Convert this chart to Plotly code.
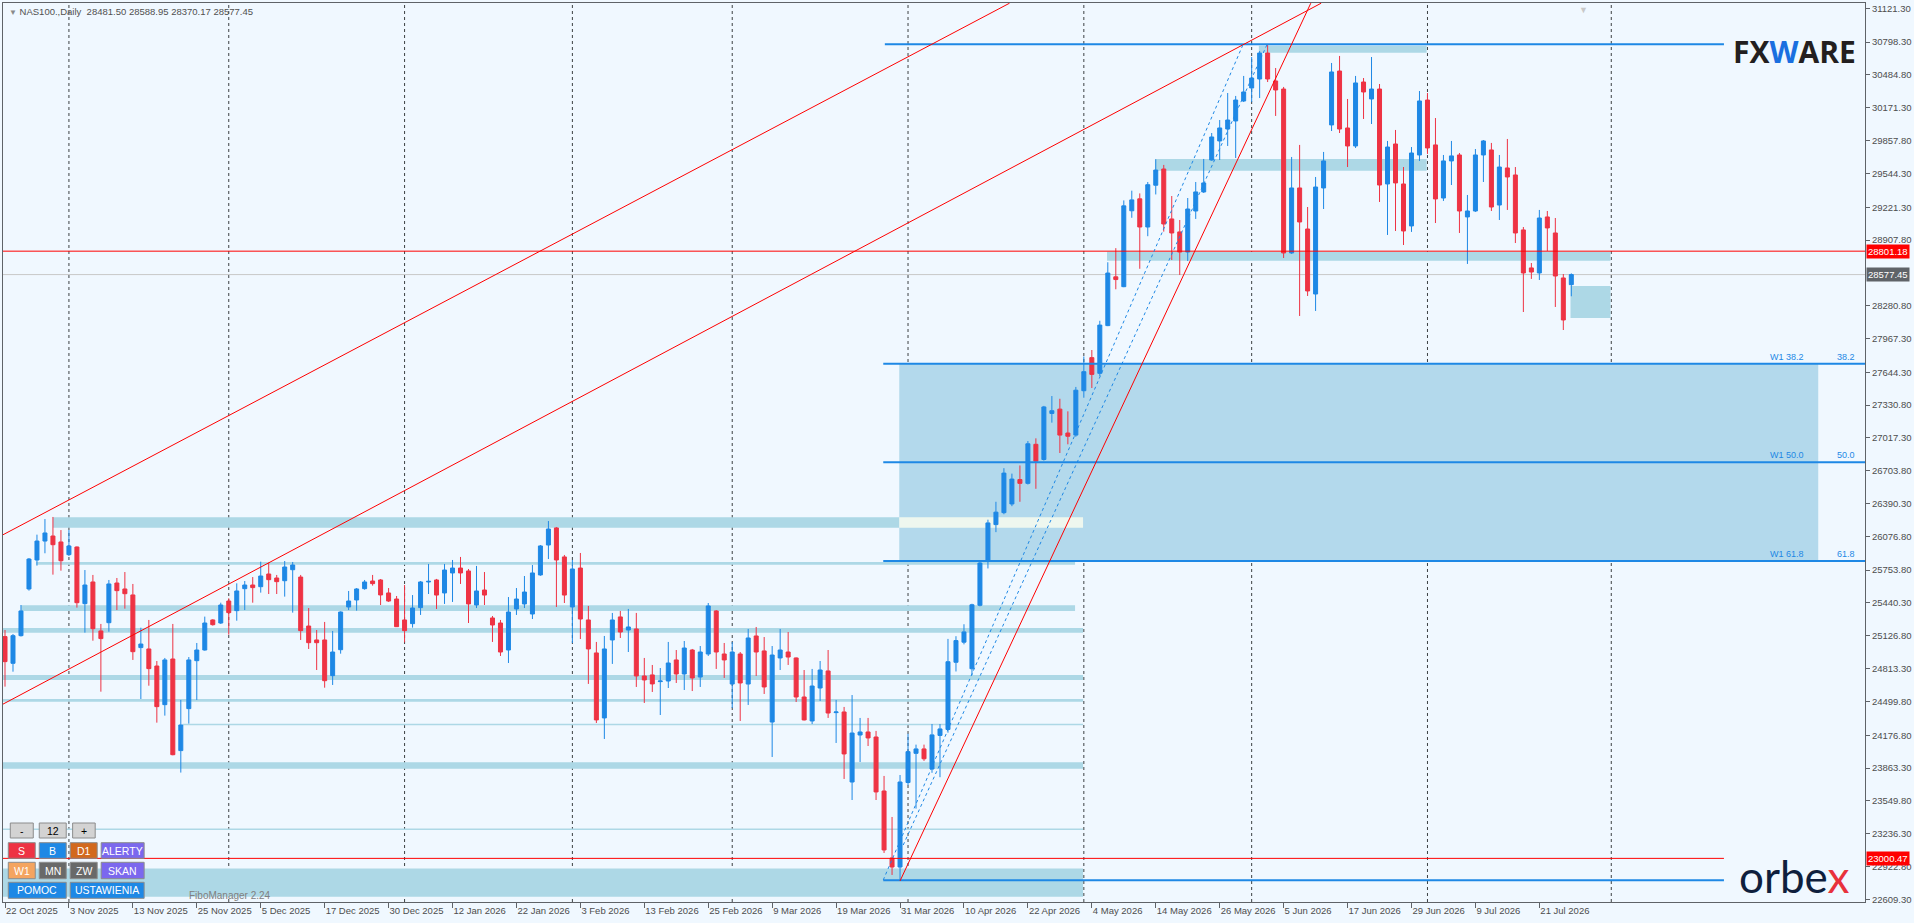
import plotly.graph_objects as go

# ---- data --------------------------------------------------------------
date_labels = ["22 Oct 2025", "3 Nov 2025", "13 Nov 2025", "25 Nov 2025", "5 Dec 2025",
               "17 Dec 2025", "30 Dec 2025", "12 Jan 2026", "22 Jan 2026", "3 Feb 2026",
               "13 Feb 2026", "25 Feb 2026", "9 Mar 2026", "19 Mar 2026", "31 Mar 2026",
               "10 Apr 2026", "22 Apr 2026", "4 May 2026", "14 May 2026", "26 May 2026",
               "5 Jun 2026", "17 Jun 2026", "29 Jun 2026", "9 Jul 2026", "21 Jul 2026"]

opens = [25119, 24864, 25128, 25574, 25851, 26032, 26080, 26023, 25902, 25975,
         25434, 25641, 25173, 25252, 25631, 25574, 25517, 25014, 25001, 24838,
         24469, 24905, 24030, 24431, 24889, 24991, 25278, 25249, 25459, 25367,
         25577, 25612, 25596, 25717, 25679, 25653, 25758, 25688, 25220, 25087,
         25087, 24746, 24994, 25402, 25469, 25577, 25650, 25660, 25536, 25478,
         25278, 25243, 25396, 25641, 25660, 25536, 25727, 25774, 25746, 25421,
         25564, 25297, 25249, 24991, 25383, 25431, 25335, 25708, 25994, 26157,
         25880, 25402, 25774, 25278, 24963, 24342, 25087, 25307, 25182, 25192,
         24743, 24753, 24689, 24695, 24896, 24762, 24991, 24733, 24953, 25364,
         24953, 24666, 24953, 24666, 25125, 24982, 24303, 24915, 24972, 24915,
         24542, 24313, 24628, 24791, 24393, 24399, 23730, 24179, 24208, 24160,
         23644, 23004, 22918, 23725, 24004, 24046, 23854, 24175, 24232, 24874,
         25066, 24812, 25418, 25837, 26189, 26303, 26386, 26619, 26583, 26956,
         26811, 27251, 27292, 27064, 27044, 27468, 27784, 27634, 28090, 28556,
         28462, 29187, 29301, 29032, 29431, 29586, 29109, 28985, 28793, 29185,
         29367, 29672, 29854, 29968, 30045, 30236, 30360, 30446, 30694, 30427,
         30350, 28784, 29405, 29013, 28392, 29405, 30007, 30522, 29978, 29806,
         30417, 30255, 30350, 29443, 29825, 29443, 29042, 29720, 30245, 29816,
         29309, 29663, 29720, 29128, 29185, 29720, 29768, 29242, 29596, 29529,
         29004, 28641, 28593, 29128, 28975, 28545, 28481.50]
highs = [25182, 25144, 25421, 25870, 26093, 26242, 26262, 26137, 26137, 25980,
         25755, 25708, 25240, 25660, 25679, 25736, 25622, 25204, 25278, 24886,
         24915, 25240, 24514, 24924, 25058, 25310, 25285, 25443, 25485, 25628,
         25650, 25688, 25835, 25825, 25708, 25841, 25832, 25708, 25392, 25182,
         25259, 25173, 25360, 25555, 25583, 25660, 25708, 25669, 25583, 25507,
         25612, 25516, 25650, 25813, 25670, 25813, 25851, 25880, 25765, 25794,
         25736, 25316, 25278, 25497, 25583, 25698, 25803, 25994, 26223, 26166,
         25899, 25851, 25918, 25412, 25068, 25125, 25345, 25364, 25383, 25345,
         24915, 24848, 24819, 25068, 24991, 25077, 25001, 25029, 25440, 25373,
         25058, 25067, 24972, 25192, 25211, 25115, 25029, 25192, 25163, 24920,
         24800, 24810, 24886, 24991, 24514, 24447, 24561, 24342, 24342, 24218,
         23788, 23396, 23797, 24191, 24087, 24087, 24284, 24284, 25097, 25123,
         25237, 25433, 25832, 26236, 26407, 26728, 26676, 26754, 26987, 27013,
         27323, 27417, 27391, 27271, 27504, 27795, 27857, 28136, 28695, 28830,
         29286, 29379, 29353, 29462, 29679, 29625, 29328, 29099, 29309, 29462,
         29682, 29930, 30054, 30312, 30284, 30475, 30656, 30713, 30771, 30551,
         30370, 29701, 29816, 29223, 29510, 29749, 30599, 30666, 30255, 30475,
         30455, 30656, 30398, 29854, 29959, 29605, 29796, 30331, 30312, 30073,
         29720, 29854, 29739, 29338, 29777, 29863, 29835, 29720, 29873, 29605,
         29032, 28688, 29195, 29185, 29118, 28583, 28588.95]
lows = [24641, 24784, 25120, 25558, 25797, 25915, 25711, 25749, 25889, 25396,
        25157, 25080, 24593, 25166, 25373, 25386, 24896, 24523, 24650, 24297,
        24364, 23985, 23820, 24288, 24514, 24985, 25224, 25240, 25138, 25271,
        25373, 25443, 25539, 25526, 25526, 25501, 25348, 25087, 25001, 24800,
        24631, 24657, 24956, 25373, 25367, 25567, 25606, 25421, 25450, 25211,
        25064, 25205, 25326, 25526, 25383, 25431, 25450, 25622, 25249, 25392,
        25421, 25068, 24934, 24867, 25326, 25392, 25287, 25700, 25860, 25402,
        25440, 25058, 25096, 24667, 24294, 24141, 24858, 25106, 24972, 24638,
        24485, 24590, 24370, 24628, 24676, 24609, 24599, 24638, 24934, 24810,
        24724, 24437, 24313, 24466, 24743, 24571, 23969, 24800, 24848, 24494,
        24318, 24284, 24504, 24342, 24103, 23759, 23558, 23921, 24074, 23558,
        23052, 22842, 22785, 23699, 23476, 23932, 23818, 23776, 24201, 24786,
        25045, 24750, 25408, 25770, 26117, 26288, 26365, 26407, 26572, 26531,
        26800, 27163, 26873, 26956, 27028, 27401, 27494, 27608, 28085, 28437,
        28457, 29120, 28633, 28944, 29343, 28988, 28717, 28574, 28707, 29109,
        29357, 29665, 29672, 29806, 29691, 30226, 30226, 30264, 30417, 30093,
        28736, 28775, 28182, 28373, 28230, 29204, 29949, 29930, 29605, 29787,
        30064, 30016, 29271, 28956, 28994, 28860, 28985, 29663, 29730, 29070,
        29281, 29433, 28975, 28679, 29176, 29462, 29185, 29099, 29195, 28879,
        28220, 28536, 28526, 28803, 28268, 28048, 28370.17]
closes = [24880, 25128, 25364, 25860, 26032, 26109, 25997, 25844, 25985, 25443,
          25612, 25195, 25100, 25622, 25558, 25529, 24975, 25048, 24813, 24450,
          24896, 23991, 24275, 24896, 24991, 25249, 25233, 25421, 25348, 25555,
          25612, 25587, 25698, 25663, 25644, 25784, 25803, 25176, 25061, 25061,
          24698, 24972, 25354, 25459, 25574, 25641, 25625, 25517, 25459, 25214,
          25176, 25392, 25641, 25647, 25516, 25755, 25774, 25727, 25431, 25555,
          25516, 25230, 24972, 25354, 25478, 25545, 25727, 25985, 26147, 25851,
          25516, 25765, 25287, 25001, 24323, 25001, 25278, 25163, 25211, 24743,
          24705, 24667, 24695, 24867, 24762, 25010, 24724, 24972, 25412, 24972,
          24896, 24972, 24676, 25106, 24972, 24638, 24943, 24991, 24924, 24542,
          24323, 24647, 24800, 24389, 24399, 23998, 24198, 24208, 24151, 23635,
          23081, 22918, 23730, 24020, 24046, 23952, 24180, 24237, 24879, 25081,
          25164, 25423, 25822, 26205, 26308, 26681, 26624, 26583, 26961, 26795,
          27313, 27277, 27044, 27033, 27473, 27650, 27624, 28095, 28592, 28530,
          29234, 29291, 29032, 29436, 29576, 29061, 28975, 28793, 29204, 29367,
          29453, 29892, 29978, 30054, 30245, 30322, 30455, 30694, 30446, 30341,
          28784, 29405, 29080, 28421, 29414, 29663, 30513, 29968, 29806, 30408,
          30322, 30350, 29433, 29796, 29453, 28994, 29739, 30236, 29787, 29300,
          29663, 29711, 29185, 29185, 29720, 29854, 29223, 29605, 29510, 28975,
          28593, 28602, 29118, 29023, 28564, 28144, 28577.45]

y_ticks = [31121.30, 30798.30, 30484.80, 30171.30, 29857.80, 29544.30, 29221.30,
           28907.80, 28280.80, 27967.30, 27644.30, 27330.80, 27017.30, 26703.80,
           26390.30, 26076.80, 25753.80, 25440.30, 25126.80, 24813.30, 24499.80,
           24176.80, 23863.30, 23549.80, 23236.30, 22922.80, 22609.30]

# first bar of each month (period separators)
month_starts = [8, 28, 50, 71, 91, 113, 135, 156, 178, 201]

# supply / demand zones: price range and bar span
zone_lo = [25805, 25364, 25156, 24704, 24497, 23857, 22634, 30697, 29570, 28710, 28162]
zone_hi = [25831, 25418, 25201, 24752, 24524, 23918, 22903, 30764, 29682, 28796, 28468]
zone_from = [3.9, 2.0, -0.25, -0.25, -0.25, -0.25, -0.25, 156.9, 143.9, 137.9, 195.9]
zone_to = [133.9, 133.9, 134.9, 134.9, 134.9, 134.9, 134.9, 177.9, 177.9, 200.9, 200.9]

# the zone that runs into the fibo box
top_zone = [26160, 26259]
top_zone_span = [6.0, 111.9, 134.9]

thin_levels = [24280, 23278]
thin_from = [22.25, -0.25]
thin_to = [134.9, 134.9]

fib_high = 30777
fib_low = 22791
fib_levels = [38.2, 50.0, 61.8]
fib_box_span = [111.9, 226.9]

level_red = 28801.18
level_red_low = 23000.47

# trend lines: (bar, price) -> (bar, price)
red_lines = [((-0.25, 26092), (125.7, 31170)),
             ((-0.25, 24474), (164.7, 31170)),
             ((112.0, 22785), (163.4, 31170))]
dotted_lines = [((109.9, 22794), (154.9, 30771)),
                ((112.4, 23128), (157.9, 30771))]

# ---- styling -----------------------------------------------------------
BG = "#F0F8FF"
BULL = "#1E88E5"
BEAR = "#EE3344"
ZONE = "#ADD8E6"
FIBO_FILL = "#B3D9EC"
AXIS = "#5F6368"
TXT = "#4D4D4D"
FONT = "Liberation Sans, Arial, sans-serif"

X_MIN, X_MAX = -0.25, 232.75
Y_MIN, Y_MAX = 22583.7, 31171.9
L, R, T, B = 2, 48, 3, 21
W, H = 1914, 923


def px(x):
    return (x - L) / (W - L - R)


def py(y):
    return (H - B - y) / (H - T - B)


bars = list(range(len(opens)))

fig = go.Figure(go.Candlestick(
    x=bars, open=opens, high=highs, low=lows, close=closes,
    increasing=dict(line=dict(color=BULL, width=1), fillcolor=BULL),
    decreasing=dict(line=dict(color=BEAR, width=1), fillcolor=BEAR),
    whiskerwidth=0, hoverinfo="none", showlegend=False,
))

shapes = []


def rect(x0, x1, y0, y1, color, layer="below"):
    shapes.append(dict(type="rect", xref="x", yref="y", x0=x0, x1=x1, y0=y0, y1=y1,
                       fillcolor=color, line=dict(width=0), layer=layer))


def seg(x0, y0, x1, y1, color, width=1, dash="solid", layer="above"):
    shapes.append(dict(type="line", xref="x", yref="y", x0=x0, y0=y0, x1=x1, y1=y1,
                       line=dict(color=color, width=width, dash=dash), layer=layer))


fib_prices = [fib_high - lv / 100 * (fib_high - fib_low) for lv in fib_levels]

# fibo box
rect(fib_box_span[0], fib_box_span[1], fib_prices[2], fib_prices[0], FIBO_FILL)
# zones
for lo, hi, a, b in zip(zone_lo, zone_hi, zone_from, zone_to):
    rect(a, b, lo, hi, ZONE)
rect(top_zone_span[0], top_zone_span[1], top_zone[0], top_zone[1], ZONE)
rect(top_zone_span[1], top_zone_span[2], top_zone[0], top_zone[1], "#EEF7EF")
for lv, a, b in zip(thin_levels, thin_from, thin_to):
    seg(a, lv, b, lv, ZONE, width=1.5, layer="below")

# month separators
for m in month_starts:
    shapes.append(dict(type="line", xref="x", yref="paper", x0=m, x1=m, y0=0, y1=1,
                       line=dict(color="#3C4043", width=1, dash="3px,3px"), layer="below"))

# current price line and red levels
seg(X_MIN, closes[-1], X_MAX, closes[-1], "#C8C8C8", layer="below")
seg(X_MIN, level_red, X_MAX, level_red, "#FF0000")
seg(X_MIN, level_red_low, 215.1, level_red_low, "#FF0000")

# fibo lines
seg(110.1, fib_high, 215.1, fib_high, BULL, width=2)
seg(109.9, fib_low, 215.1, fib_low, BULL, width=2)
for p in fib_prices:
    seg(109.9, p, X_MAX, p, BULL, width=2)

for (a, b) in red_lines:
    seg(a[0], a[1], b[0], b[1], "#FF0000")
for (a, b) in dotted_lines:
    seg(a[0], a[1], b[0], b[1], BULL, dash="dot")

annotations = []

# fibo labels
for lv, p in zip(fib_levels, fib_prices):
    annotations.append(dict(x=225.4, y=p, xref="x", yref="y", xanchor="right", yanchor="bottom",
                            text=f"W1 {lv:.1f}", showarrow=False,
                            font=dict(family=FONT, size=9, color=BULL)))
    annotations.append(dict(x=231.7, y=p, xref="x", yref="y", xanchor="right", yanchor="bottom",
                            text=f"{lv:.1f}", showarrow=False,
                            font=dict(family=FONT, size=9, color=BULL)))

# price tags on the axis
for val, col in [(level_red, "#FF0000"), (closes[-1], "#5F6368"), (level_red_low, "#FF0000")]:
    annotations.append(dict(x=1, y=val, xref="paper", yref="y", xanchor="left", yanchor="middle",
                            xshift=1, text=f"{val:.2f}", showarrow=False, bgcolor=col,
                            borderpad=1, font=dict(family=FONT, size=9.5, color="white")))

# header
annotations.append(dict(x=px(6), y=py(4), xref="paper", yref="paper", xanchor="left", yanchor="top",
                        text=f"<span style='color:#8A8A8A;font-size:8px'>▼</span> NAS100.,Daily  "
                             f"{opens[-1]:.2f} {highs[-1]:.2f} {lows[-1]:.2f} {closes[-1]:.2f}",
                        showarrow=False, font=dict(family=FONT, size=9.5, color="#505050")))
annotations.append(dict(x=px(1584), y=1, xref="paper", yref="paper", xanchor="center", yanchor="top",
                        text="▼", showarrow=False, font=dict(size=9, color="#C8C8C8")))

# logos
annotations.append(dict(x=px(1795), y=py(51), xref="paper", yref="paper", xanchor="center",
                        yanchor="middle", showarrow=False,
                        text="<b>FX<span style='color:#1A6FE0'>W</span>ARE</b>",
                        font=dict(family="Open Sans, Lato, sans-serif", size=30, color="#231F20")))
annotations.append(dict(x=px(1795), y=py(876), xref="paper", yref="paper", xanchor="center",
                        yanchor="middle", showarrow=False,
                        text="orbe<span style='color:#E8323C'>x</span>",
                        font=dict(family="Lato, Open Sans, sans-serif", size=44, color="#0F1F3D")))

annotations.append(dict(x=px(229), y=py(895), xref="paper", yref="paper", xanchor="center",
                        yanchor="middle", text="FiboManager 2.24", showarrow=False,
                        font=dict(family=FONT, size=10, color="#808080")))

# panel buttons
buttons = [
    ("-", 9.3, 32.3, 823, 838, "#D3D3D3", "#000000"),
    ("12", 38.3, 65.3, 823, 838, "#D3D3D3", "#000000"),
    ("+", 71.7, 94.3, 823, 838, "#D3D3D3", "#000000"),
    ("S", 7.3, 34.3, 842.7, 858.3, "#EE3344", "white"),
    ("B", 38.3, 65.3, 842.7, 858.3, "#1E88E5", "white"),
    ("D1", 69.3, 96.3, 842.7, 858.3, "#D2691E", "white"),
    ("ALERTY", 100.3, 143.3, 842.7, 858.3, "#7B68EE", "white"),
    ("W1", 7.3, 34.3, 862.3, 878.7, "#F4A460", "white"),
    ("MN", 38.3, 65.3, 862.3, 878.7, "#696969", "white"),
    ("ZW", 69.3, 96.3, 862.3, 878.7, "#696969", "white"),
    ("SKAN", 100.3, 143.3, 862.3, 878.7, "#7B68EE", "white"),
    ("POMOC", 7.3, 65.3, 882.3, 898.3, "#1E88E5", "white"),
    ("USTAWIENIA", 69.3, 143.3, 882.3, 898.3, "#1E88E5", "white"),
]
for label, x0, x1, y0, y1, fill, fcol in buttons:
    shapes.append(dict(type="rect", xref="paper", yref="paper", x0=px(x0), x1=px(x1),
                       y0=py(y1), y1=py(y0), fillcolor=fill,
                       line=dict(color="#8C8C8C", width=1), layer="above"))
    annotations.append(dict(x=px((x0 + x1) / 2), y=py((y0 + y1) / 2), xref="paper", yref="paper",
                            xanchor="center", yanchor="middle", text=label, showarrow=False,
                            font=dict(family=FONT, size=10.5, color=fcol)))

fig.update_layout(
    width=W, height=H,
    margin=dict(l=L, r=R, t=T, b=B),
    paper_bgcolor=BG, plot_bgcolor=BG,
    boxgap=0.5, boxgroupgap=0,
    shapes=shapes, annotations=annotations,
    font=dict(family=FONT, size=9.5, color=TXT),
    xaxis=dict(range=[X_MIN, X_MAX], tickvals=list(range(0, 8 * len(date_labels), 8)),
               ticktext=date_labels, ticks="outside", ticklen=5, tickcolor=AXIS,
               ticklabelposition="outside right", tickangle=0,
               showline=True, linecolor=AXIS, linewidth=1, mirror=True,
               showgrid=False, zeroline=False, rangeslider=dict(visible=False),
               tickfont=dict(family=FONT, size=9.5, color=TXT)),
    yaxis=dict(range=[Y_MIN, Y_MAX], side="right", tickvals=y_ticks,
               ticktext=[f"{v:.2f}" for v in y_ticks], ticks="outside", ticklen=4,
               tickcolor=AXIS, showline=True, linecolor=AXIS, linewidth=1, mirror=True,
               showgrid=False, zeroline=False,
               tickfont=dict(family=FONT, size=9.5, color=TXT)),
)

# the page body has a default margin; drop it so the figure sits at the window origin
fig.write_html("out.html", config={"displayModeBar": False},
               post_script="document.body.style.margin='0';"
                           "document.body.style.overflow='hidden';")
